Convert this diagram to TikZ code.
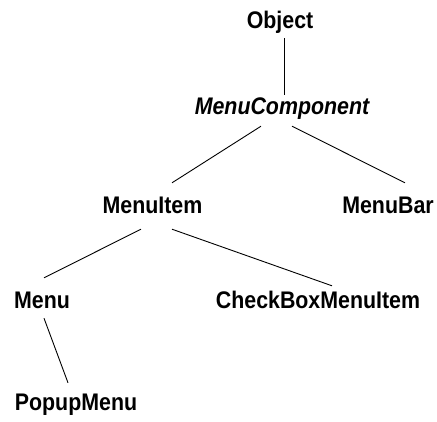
\documentclass[tikz,border=0pt]{standalone}
\usepackage{fontspec}
\newfontfamily\treefont[FakeStretch=0.89]{Liberation Sans}
\usetikzlibrary{positioning}

\begin{document}
\begin{tikzpicture}[x=1pt, y=-1pt, on grid,
  class/.style = {inner sep=0pt, text height=18pt, text depth=5pt,
    font=\treefont\fontsize{24}{28}\selectfont\bfseries},
  abstract/.style = {class,
    font=\treefont\fontsize{24}{28}\selectfont\bfseries\itshape},
  link/.style = {line width=0.9pt}
  ]
  \useasboundingbox (0,0) rectangle (437,421);

  \node (object) [class] at (280,21.5) {Object};
  \node (menucomp) [abstract,below right=86pt and 2pt of object] {MenuComponent};
  \node (menuitem) [class,below left=99pt and 129.5pt of menucomp] {MenuItem};
  \node (menubar) [class,below right=99pt and 106pt of menucomp] {MenuBar};
  \node (menu) [class,below left=95pt and 110.5pt of menuitem] {Menu};
  \node (checkbox) [class,below right=95pt and 165.5pt of menuitem] {CheckBoxMenuItem};
  \node (popup) [class,below right=102pt and 34pt of menu] {PopupMenu};

  \draw[link] ([xshift=4pt,yshift=-5pt]object.south) -- ([xshift=2pt,yshift=1pt]menucomp.north);
  \draw[link] ([xshift=-21pt,yshift=-7pt]menucomp.south) -- ([xshift=19.5pt,yshift=12pt]menuitem.north);
  \draw[link] ([xshift=10pt,yshift=-7pt]menucomp.south) -- ([xshift=17pt,yshift=12pt]menubar.north);
  \draw[link] ([xshift=-11.5pt,yshift=-11pt]menuitem.south) -- ([xshift=2pt,yshift=12pt]menu.north);
  \draw[link] ([xshift=19.5pt,yshift=-11pt]menuitem.south) -- ([xshift=14pt,yshift=4pt]checkbox.north);
  \draw[link] ([xshift=2pt,yshift=-5pt]menu.south) -- ([xshift=-8pt,yshift=9pt]popup.north);
\end{tikzpicture}
\end{document}
